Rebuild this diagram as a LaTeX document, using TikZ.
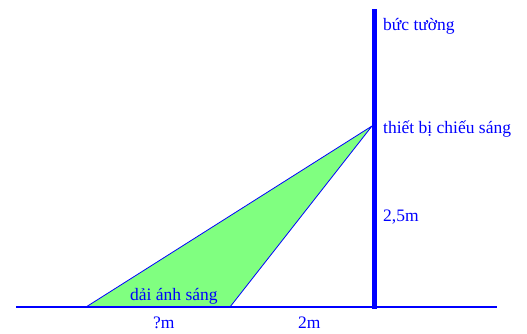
\documentclass[tikz,border=0pt]{standalone}
\usepackage{fontspec}
\setmainfont{Liberation Serif}
\usetikzlibrary{positioning,calc}

\begin{document}
\begin{tikzpicture}[x=1pt, y=-1pt, font=\fontsize{17.5}{20}\selectfont]
\tikzstyle{label}=[text=blue, inner sep=0pt, anchor=base west]
\tikzstyle{wall}=[draw=blue, line width=5pt]
\tikzstyle{ground}=[draw=blue, line width=1.2pt]
\useasboundingbox (0,0) rectangle (527,333);
\coordinate (groundL) at (16,307);
\coordinate (groundR) at (497,307);
\coordinate (wallTop) at (374,9);
\coordinate (wallFoot) at (374,309);
\coordinate (lamp) at (372,126);
\coordinate (shadowL) at (86,307);
\coordinate (shadowR) at (230,307);
% light strip
\filldraw[fill=green!50, draw=blue, line width=0.8pt] (shadowL) -- (lamp) -- (shadowR) -- cycle;
\draw[ground] (groundL) -- (groundR);
\draw[wall] (wallTop) -- (wallFoot);
\node[label] (tuong) at (383,30) {bức tường};
\node[label] (den) at (383,133) {thiết bị chiếu sáng};
\node[label] (cao) at (383,221) {2,5m};
\node[label] (dai) at (130,300) {dải ánh sáng};
\node[label] (xm) at (153,328) {?m};
\node[label] (hai) at (298,328) {2m};
\end{tikzpicture}
\end{document}
